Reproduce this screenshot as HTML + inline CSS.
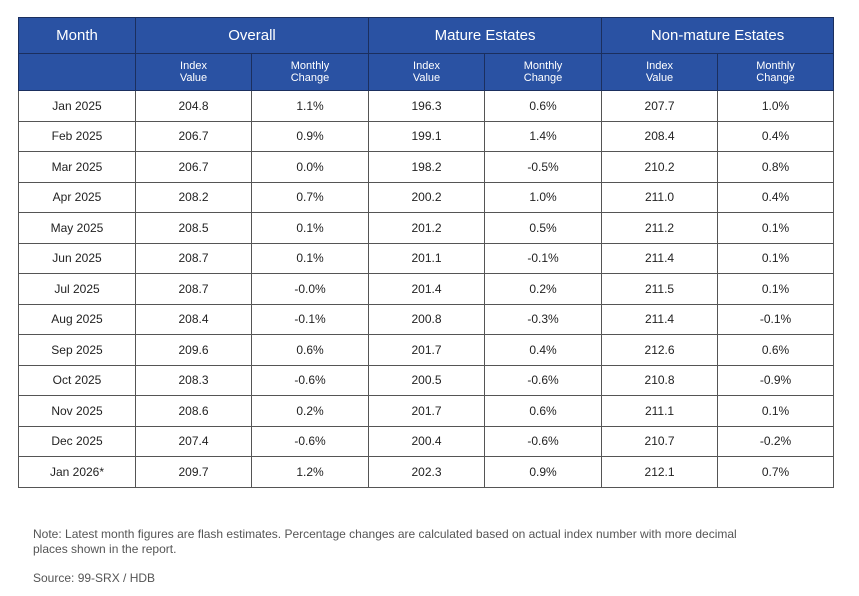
<!DOCTYPE html>
<html><head><style>
body{margin:0;width:859px;height:596px;background:#fff;font-family:"Liberation Sans",sans-serif;color:#222;position:relative;overflow:hidden}
table{position:absolute;left:18px;top:17px;width:815px;border-collapse:collapse;table-layout:fixed}
td,th{border:1px solid #555;text-align:center;padding:0;font-weight:normal}
th{background:#2a52a3;color:#fff;border-color:#1b2f5e}
tr.h1 th{height:35px;font-size:15px}
tr.h2 th{height:36px;font-size:11px;line-height:12px}
td{height:29.5px;font-size:12px}
.note{position:absolute;left:33px;top:527px;font-size:12px;color:#555;line-height:15px;width:750px}
.src{position:absolute;left:33px;top:571px;font-size:12px;color:#555}
</style></head><body>
<table>
<colgroup><col style="width:117px"><col style="width:116px"><col style="width:117px"><col style="width:116px"><col style="width:117px"><col style="width:116px"><col style="width:116px"></colgroup>
<tr class="h1"><th>Month</th><th colspan="2">Overall</th><th colspan="2">Mature Estates</th><th colspan="2">Non-mature Estates</th></tr>
<tr class="h2"><th></th><th>Index<br>Value</th><th>Monthly<br>Change</th><th>Index<br>Value</th><th>Monthly<br>Change</th><th>Index<br>Value</th><th>Monthly<br>Change</th></tr>
<tr><td>Jan 2025</td><td>204.8</td><td>1.1%</td><td>196.3</td><td>0.6%</td><td>207.7</td><td>1.0%</td></tr>
<tr><td>Feb 2025</td><td>206.7</td><td>0.9%</td><td>199.1</td><td>1.4%</td><td>208.4</td><td>0.4%</td></tr>
<tr><td>Mar 2025</td><td>206.7</td><td>0.0%</td><td>198.2</td><td>-0.5%</td><td>210.2</td><td>0.8%</td></tr>
<tr><td>Apr 2025</td><td>208.2</td><td>0.7%</td><td>200.2</td><td>1.0%</td><td>211.0</td><td>0.4%</td></tr>
<tr><td>May 2025</td><td>208.5</td><td>0.1%</td><td>201.2</td><td>0.5%</td><td>211.2</td><td>0.1%</td></tr>
<tr><td>Jun 2025</td><td>208.7</td><td>0.1%</td><td>201.1</td><td>-0.1%</td><td>211.4</td><td>0.1%</td></tr>
<tr><td>Jul 2025</td><td>208.7</td><td>-0.0%</td><td>201.4</td><td>0.2%</td><td>211.5</td><td>0.1%</td></tr>
<tr><td>Aug 2025</td><td>208.4</td><td>-0.1%</td><td>200.8</td><td>-0.3%</td><td>211.4</td><td>-0.1%</td></tr>
<tr><td>Sep 2025</td><td>209.6</td><td>0.6%</td><td>201.7</td><td>0.4%</td><td>212.6</td><td>0.6%</td></tr>
<tr><td>Oct 2025</td><td>208.3</td><td>-0.6%</td><td>200.5</td><td>-0.6%</td><td>210.8</td><td>-0.9%</td></tr>
<tr><td>Nov 2025</td><td>208.6</td><td>0.2%</td><td>201.7</td><td>0.6%</td><td>211.1</td><td>0.1%</td></tr>
<tr><td>Dec 2025</td><td>207.4</td><td>-0.6%</td><td>200.4</td><td>-0.6%</td><td>210.7</td><td>-0.2%</td></tr>
<tr><td>Jan 2026*</td><td>209.7</td><td>1.2%</td><td>202.3</td><td>0.9%</td><td>212.1</td><td>0.7%</td></tr>
</table>
<div class="note">Note: Latest month figures are flash estimates. Percentage changes are calculated based on actual index number with more decimal<br>places shown in the report.</div>
<div class="src">Source: 99-SRX / HDB</div>
</body></html>
